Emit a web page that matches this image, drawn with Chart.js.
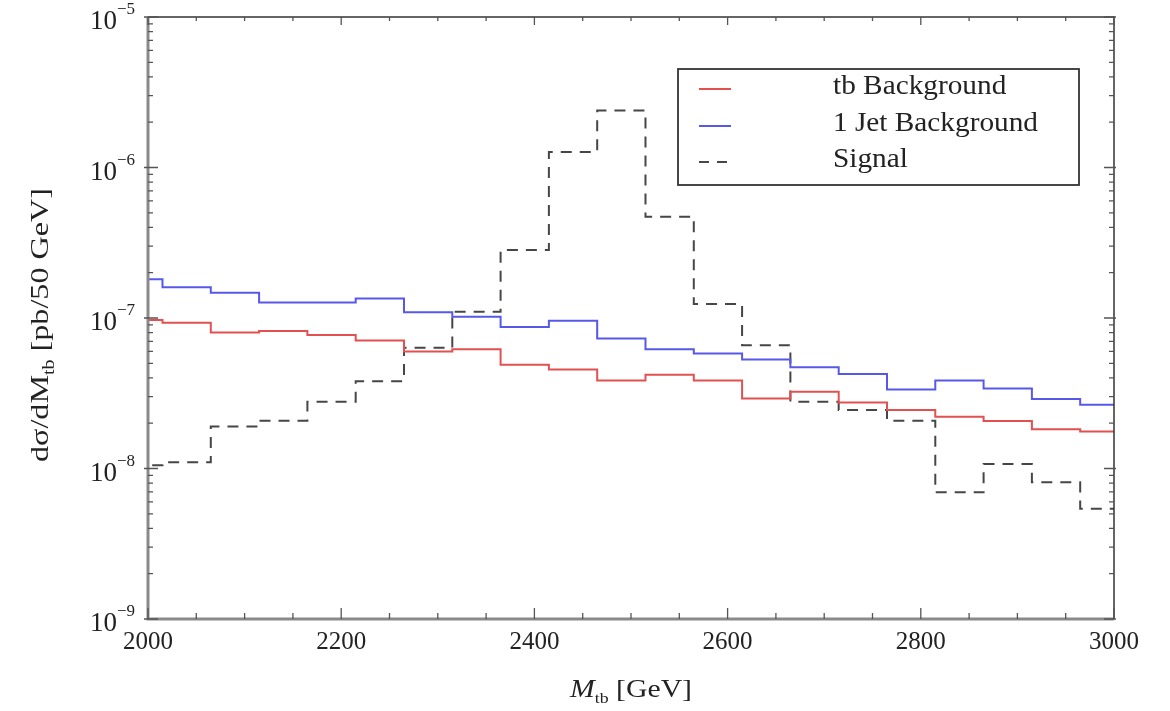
<!DOCTYPE html>
<html lang="en">
<head>
    <meta charset="UTF-8">
    <title>Signal and Background vs M_tb</title>
    <script src="https://cdn.jsdelivr.net/npm/chart.js"></script>
    <style>
        body { margin: 0; background: #fff; }
        #wrap { width: 1170px; height: 711px; position: relative; }
    </style>
</head>
<body>
    <div id="wrap"><canvas id="myChart"></canvas></div>

    <script>
        // 50 GeV bins, edges offset by 15 GeV from the axis start
        const binEdges = [1965, 2015, 2065, 2115, 2165, 2215, 2265, 2315, 2365, 2415, 2465,
                          2515, 2565, 2615, 2665, 2715, 2765, 2815, 2865, 2915, 2965, 3015];
        const tbBackground = [9.7e-8, 9.3e-8, 8.0e-8, 8.2e-8, 7.7e-8, 7.1e-8, 6.0e-8, 6.2e-8, 4.9e-8, 4.55e-8, 3.85e-8,
                              4.2e-8, 3.85e-8, 2.92e-8, 3.24e-8, 2.74e-8, 2.45e-8, 2.21e-8, 2.07e-8, 1.82e-8, 1.76e-8];
        const jetBackground = [1.81e-7, 1.6e-7, 1.47e-7, 1.27e-7, 1.27e-7, 1.35e-7, 1.09e-7, 1.02e-7, 8.7e-8, 9.6e-8, 7.3e-8,
                               6.2e-8, 5.8e-8, 5.3e-8, 4.7e-8, 4.25e-8, 3.35e-8, 3.85e-8, 3.4e-8, 2.9e-8, 2.65e-8];
        const signal = [1.05e-8, 1.1e-8, 1.9e-8, 2.08e-8, 2.78e-8, 3.8e-8, 6.35e-8, 1.1e-7, 2.83e-7, 1.27e-6, 2.39e-6,
                        4.7e-7, 1.24e-7, 6.6e-8, 2.78e-8, 2.45e-8, 2.08e-8, 6.95e-9, 1.07e-8, 8.1e-9, 5.4e-9];

        const xTicks = [2000, 2200, 2400, 2600, 2800, 3000];
        const xMinorTicks = [2050, 2100, 2150, 2250, 2300, 2350, 2450, 2500, 2550, 2650, 2700, 2750, 2850, 2900, 2950];
        const yTicks = [1e-9, 1e-8, 1e-7, 1e-6, 1e-5];
        const yExponents = ['\u22129', '\u22128', '\u22127', '\u22126', '\u22125'];

        const seriesNames = ['tb Background', '1 Jet Background', 'Signal'];
        const colRed = 'rgb(226, 80, 80)';
        const colBlue = 'rgb(88, 88, 232)';
        const colSignal = 'rgb(70, 70, 70)';

        function steps(values) {
            const pts = values.map((v, i) => ({ x: binEdges[i], y: v }));
            pts.push({ x: binEdges[binEdges.length - 1], y: values[values.length - 1] });
            return pts;
        }

        const serif = '"Liberation Serif", "DejaVu Serif", serif';

        // draws [font, text, dy] parts in a row, stretched to a given total width
        function drawRun(ctx, parts, x, y, width) {
            let total = 0;
            parts.forEach(p => { ctx.font = p[0] + serif; total += ctx.measureText(p[1]).width; });
            const k = width ? width / total : 1;
            ctx.save();
            ctx.translate(x, y);
            ctx.scale(k, 1);
            let px = 0;
            parts.forEach(p => {
                ctx.font = p[0] + serif;
                ctx.fillText(p[1], px, p[2]);
                px += ctx.measureText(p[1]).width;
            });
            ctx.restore();
        }

        const framePlugin = {
            id: 'framePlugin',
            afterDatasetsDraw(chart) {
                const ctx = chart.ctx;
                const xs = chart.scales.x, ys = chart.scales.y;
                const L = chart.chartArea.left, R = chart.chartArea.right;
                const T = chart.chartArea.top, B = chart.chartArea.bottom;
                ctx.save();

                // frame: gray left/bottom, dark top/right
                ctx.lineCap = 'butt';
                ctx.strokeStyle = '#8a8a8a';
                ctx.lineWidth = 3;
                ctx.beginPath();
                ctx.moveTo(L, T); ctx.lineTo(L, B); ctx.lineTo(R, B);
                ctx.stroke();
                ctx.strokeStyle = '#333';
                ctx.lineWidth = 1.5;
                ctx.beginPath();
                ctx.moveTo(L, T); ctx.lineTo(R, T); ctx.lineTo(R, B);
                ctx.stroke();

                // y ticks (major + minor), left and right
                ctx.lineWidth = 1.3;
                ctx.strokeStyle = '#555';
                for (let d = 0; d < yTicks.length; d++) {
                    const y = ys.getPixelForValue(yTicks[d]);
                    ctx.beginPath();
                    ctx.moveTo(L - 4, y); ctx.lineTo(L + 10, y);
                    ctx.moveTo(R - 10, y); ctx.lineTo(R + 2, y);
                    ctx.stroke();
                    if (d < yTicks.length - 1) {
                        for (let m = 2; m <= 9; m++) {
                            const ym = ys.getPixelForValue(yTicks[d] * m);
                            ctx.beginPath();
                            ctx.moveTo(L, ym); ctx.lineTo(L + 5, ym);
                            ctx.moveTo(R - 5, ym); ctx.lineTo(R, ym);
                            ctx.stroke();
                        }
                    }
                }
                // x ticks, bottom and top
                xTicks.forEach(v => {
                    const x = xs.getPixelForValue(v);
                    ctx.beginPath();
                    ctx.moveTo(x, B); ctx.lineTo(x, B - 11);
                    ctx.moveTo(x, T); ctx.lineTo(x, T + 8);
                    ctx.stroke();
                });
                xMinorTicks.forEach(v => {
                    const x = xs.getPixelForValue(v);
                    ctx.beginPath();
                    ctx.moveTo(x, B); ctx.lineTo(x, B - 6);
                    ctx.moveTo(x, T); ctx.lineTo(x, T + 4);
                    ctx.stroke();
                });

                // tick labels
                ctx.fillStyle = '#222';
                ctx.font = '25px ' + serif;
                ctx.textAlign = 'center';
                ctx.textBaseline = 'middle';
                xTicks.forEach(v => {
                    ctx.fillText(String(v), xs.getPixelForValue(v), B + 23);
                });
                yTicks.forEach((v, i) => {
                    const y = ys.getPixelForValue(v);
                    ctx.font = '27px ' + serif;
                    ctx.textAlign = 'right';
                    ctx.fillText('10', 117, y + 5);
                    ctx.font = '17px ' + serif;
                    ctx.textAlign = 'left';
                    ctx.fillText(yExponents[i], 117, y - 7);
                });

                // x axis title: M_tb [GeV]
                ctx.textAlign = 'left';
                ctx.textBaseline = 'alphabetic';
                drawRun(ctx, [
                    ['italic 25px ', 'M', 0],
                    ['15px ', 'tb', 6],
                    ['25px ', ' [GeV]', 0]
                ], 570, 697, 122);

                // y axis title: dσ/dM_tb [pb/50 GeV]
                ctx.save();
                ctx.translate(48, 462);
                ctx.rotate(-Math.PI / 2);
                drawRun(ctx, [
                    ['26px ', 'd\u03c3/dM', 0],
                    ['16px ', 'tb', 6],
                    ['26px ', ' [pb/50 GeV]', 0]
                ], 0, 0, 274);
                ctx.restore();

                // legend box
                ctx.strokeStyle = '#333';
                ctx.lineWidth = 1.8;
                ctx.strokeRect(678, 69, 401, 116);
                const rows = [87, 124, 160];
                const styles = [[colRed, []], [colBlue, []], [colSignal, [10, 8]]];
                ctx.font = '27px ' + serif;
                const kLeg = 205 / ctx.measureText(seriesNames[1]).width;
                rows.forEach((ry, i) => {
                    ctx.strokeStyle = styles[i][0];
                    ctx.setLineDash(styles[i][1]);
                    ctx.lineWidth = 2;
                    ctx.beginPath();
                    ctx.moveTo(699, ry + 2); ctx.lineTo(731, ry + 2);
                    ctx.stroke();
                    ctx.setLineDash([]);
                    ctx.fillStyle = '#222';
                    ctx.textBaseline = 'middle';
                    ctx.font = '27px ' + serif;
                    const w = ctx.measureText(seriesNames[i]).width * kLeg;
                    drawRun(ctx, [['27px ', seriesNames[i], 0]], 833, ry, w);
                });
                ctx.restore();
            }
        };

        const ctx = document.getElementById('myChart').getContext('2d');
        new Chart(ctx, {
            type: 'line',
            data: {
                datasets: [{
                    label: seriesNames[0],
                    data: steps(tbBackground),
                    borderColor: colRed,
                    borderWidth: 2,
                    stepped: true
                }, {
                    label: seriesNames[1],
                    data: steps(jetBackground),
                    borderColor: colBlue,
                    borderWidth: 2,
                    stepped: true
                }, {
                    label: seriesNames[2],
                    data: steps(signal),
                    borderColor: colSignal,
                    borderWidth: 2,
                    borderDash: [11, 8],
                    stepped: true
                }]
            },
            options: {
                responsive: true,
                maintainAspectRatio: false,
                animation: false,
                layout: { padding: { left: 148, right: 56, top: 17, bottom: 92 } },
                elements: { point: { radius: 0 } },
                plugins: { legend: { display: false }, tooltip: { enabled: false } },
                scales: {
                    x: { type: 'linear', min: 2000, max: 3000, display: false },
                    y: { type: 'logarithmic', min: 1e-9, max: 1e-5, display: false }
                }
            },
            plugins: [framePlugin]
        });
    </script>
</body>
</html>
